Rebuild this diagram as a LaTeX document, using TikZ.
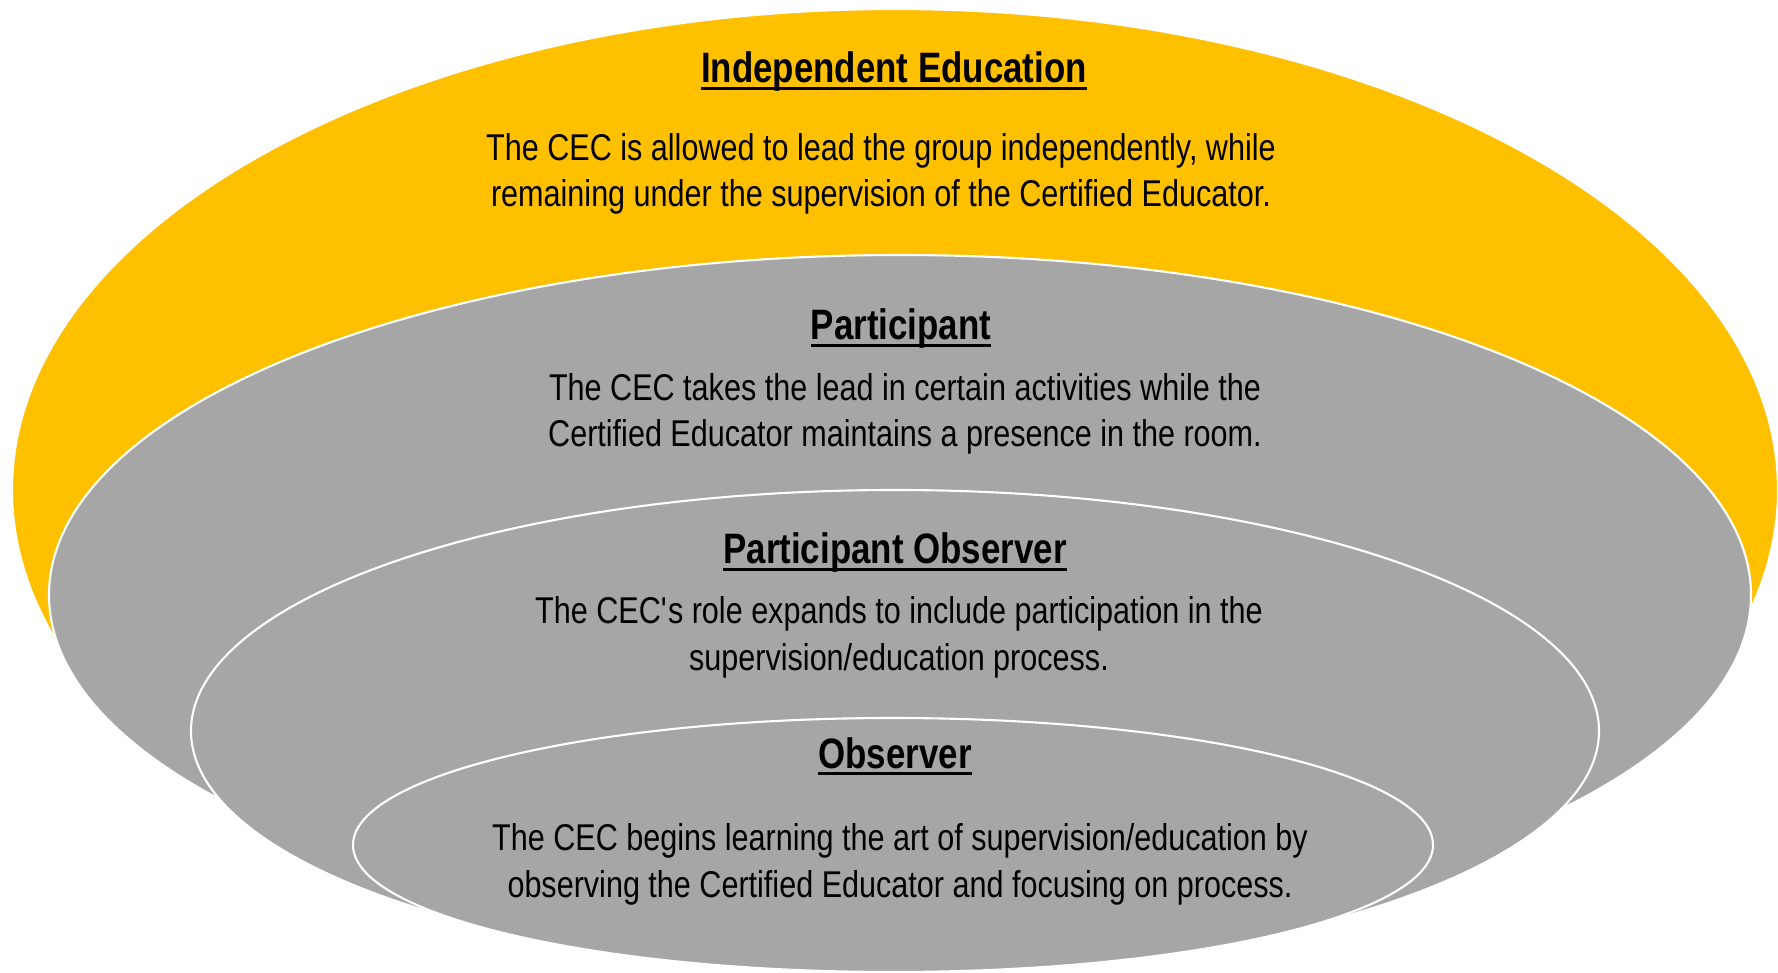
\documentclass[tikz,border=0pt]{standalone}
\usepackage{fontspec}
\setmainfont{Liberation Sans}[FakeStretch=0.82]
\usepackage{xcolor}
\definecolor{gold}{HTML}{FFC000}
\definecolor{ringgray}{HTML}{A6A6A6}
\newcommand{\ringtitle}[1]{\setbox0\hbox{#1}\rlap{\rule[-2.1pt]{\wd0}{0.95pt}}\box0}

\begin{document}
\begin{tikzpicture}[x=0.01cm,y=0.01cm,
  ring/.style={draw=white,line width=0.6pt,fill=#1},
  head/.style={anchor=base,font=\fontsize{12.1}{14}\selectfont\bfseries},
  body/.style={anchor=base,align=center,font=\fontsize{10.6}{13.2}\selectfont}]
  \useasboundingbox (0,0) rectangle (1778,972);

  % rings, outer to inner
  \path[ring=gold] (895,482) ellipse [x radius=883,y radius=481];
  \path[ring=ringgray] (900,377) ellipse [x radius=851,y radius=340];
  \path[ring=ringgray] (895,241) ellipse [x radius=704,y radius=241];
  \path[ring=ringgray] (893,127) ellipse [x radius=540,y radius=127];

  % base of a two-line node = base of its last line
  \node[head] (h1) at (894,889) {\ringtitle{Independent Education}};
  \node[body] (b1) at (881,765) {The CEC is allowed to lead the group independently, while\\
    remaining under the supervision of the Certified Educator.};

  \node[head] (h2) at (901,632) {\ringtitle{Participant}};
  \node[body] (b2) at (905,525) {The CEC takes the lead in certain activities while the\\
    Certified Educator maintains a presence in the room.};

  \node[head] (h3) at (895,408) {\ringtitle{Participant Observer}};
  \node[body] (b3) at (899,302) {The CEC\textquotesingle s role expands to include participation in the\\
    supervision/education process.};

  \node[head] (h4) at (895,204) {\ringtitle{Observer}};
  \node[body] (b4) at (900,75) {The CEC begins learning the art of supervision/education by\\
    observing the Certified Educator and focusing on process.};
\end{tikzpicture}
\end{document}
